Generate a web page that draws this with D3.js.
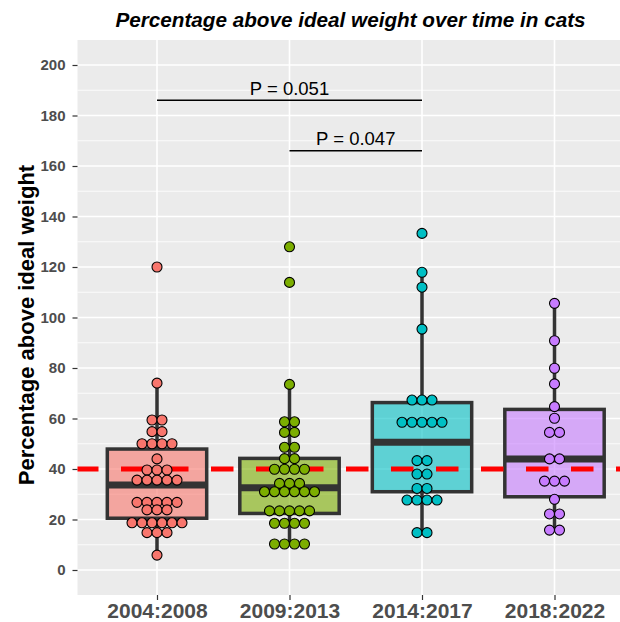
<!DOCTYPE html>
<html><head><meta charset="utf-8">
<script src="https://cdn.jsdelivr.net/npm/d3@7"></script>
<style>
html,body{margin:0;padding:0;background:#fff;}
svg{display:block;font-family:"Liberation Sans",Arial,sans-serif;}
</style></head>
<body><svg id="c" width="620" height="622"></svg>
<script>
const categories = ["2004:2008","2009:2013","2014:2017","2018:2022"];
const colors = ["#F8766D","#7CAE00","#00BFC4","#C77CFF"];
const g1 = [120,74,59.4,59.4,54.8,54.8,50,50,50,50,44,39.6,39.6,39.6,35.6,35.6,35.6,35.6,35.6,26.8,26.8,26.8,26.8,26.8,23.8,23.8,23.8,18.7,18.7,18.7,18.7,18.7,18.7,14.8,14.8,14.8,5.9];
const g2 = [128,113.9,73.5,58.7,58.7,54.5,54.5,48.6,48.6,44.1,44.1,39.9,39.9,39.9,39.9,34.3,34.3,34.3,31,31,31,31,31,31,23.4,23.4,23.4,23.4,23.4,18.5,18.5,18.5,18.5,10.3,10.3,10.3,10.3];
const g3 = [133.3,117.9,112,95.4,67.3,67.3,67.3,58.5,58.5,58.5,58.5,58.5,43.3,43.3,38,38,32.3,32.3,27.7,27.7,27.7,27.7,14.8,14.8];
const g4 = [105.6,90.8,79.9,73.7,64.7,60.1,54.5,54.5,44,44,35.2,35.2,35.2,28,22.2,22.2,15.8,15.8];
const groupValues = [g1,g2,g3,g4];
const q1s = [20.5,22.4,31,29];
const medians = [33.7,32.6,50.6,44];
const q3s = [47.9,44.2,66.3,63.6];
const whiskerLows = [5.9,10.3,14.8,15.8];
const whiskerHighs = [74,73.5,117.9,105.6];
const yTicks = [0,20,40,60,80,100,120,140,160,180,200];
const refLine = 40;
const brackets = [{from:0,to:2,y:186,label:"P = 0.051"},{from:1,to:2,y:166,label:"P = 0.047"}];
const title = "Percentage above ideal weight over time in cats";
const yTitle = "Percentage above ideal weight";

const svg = d3.select("#c");
const L = 77.5, R = 634, T = 40, B = 595;
const x = d3.scalePoint().domain(categories).range([L,R]).padding(0.6);
const y = d3.scaleLinear().domain([0,200]).range([570,65]);
const bw = x.step()*0.75;
const FF = "Liberation Sans, Arial, sans-serif";

svg.append("rect").attr("x",L).attr("y",T).attr("width",R-L).attr("height",B-T).attr("fill","#EBEBEB");
const minor = d3.range(10,210,20);
svg.append("g").selectAll("line").data(minor).join("line")
  .attr("x1",L).attr("x2",R).attr("y1",d=>y(d)).attr("y2",d=>y(d)).attr("stroke","#fff").attr("stroke-width",0.8);
svg.append("g").selectAll("line").data(yTicks).join("line")
  .attr("x1",L).attr("x2",R).attr("y1",d=>y(d)).attr("y2",d=>y(d)).attr("stroke","#fff").attr("stroke-width",1.6);
svg.append("g").selectAll("line").data(categories).join("line")
  .attr("x1",d=>x(d)).attr("x2",d=>x(d)).attr("y1",T).attr("y2",B).attr("stroke","#fff").attr("stroke-width",1.6);

// axes
const ya = svg.append("g").attr("transform",`translate(${L},0)`).call(d3.axisLeft(y).tickValues(yTicks).tickSize(5).tickPadding(7));
ya.select(".domain").remove();
ya.selectAll("line").attr("stroke","#333").attr("stroke-width",1.2);
ya.selectAll("text").attr("fill","#4D4D4D").attr("font-size",15).attr("font-weight","bold").attr("font-family",FF);
const xa = svg.append("g").attr("transform",`translate(0,${B})`).call(d3.axisBottom(x).tickSize(5));
xa.select(".domain").remove();
xa.selectAll("line").attr("stroke","#333").attr("stroke-width",1.2);
xa.selectAll("text").attr("y",23).attr("dy",0).attr("fill","#4D4D4D").attr("font-size",21).attr("font-weight","bold").attr("font-family",FF);

// boxes
categories.forEach((c,i)=>{
  const g = svg.append("g");
  const cx = x(c);
  g.append("line").attr("x1",cx).attr("x2",cx).attr("y1",y(whiskerHighs[i])).attr("y2",y(q3s[i])).attr("stroke","#333").attr("stroke-width",3.5);
  g.append("line").attr("x1",cx).attr("x2",cx).attr("y1",y(q1s[i])).attr("y2",y(whiskerLows[i])).attr("stroke","#333").attr("stroke-width",3.5);
  g.append("rect").attr("x",cx-bw/2).attr("width",bw).attr("y",y(q3s[i])).attr("height",y(q1s[i])-y(q3s[i]))
    .attr("fill",colors[i]).attr("fill-opacity",0.6).attr("stroke","#333").attr("stroke-width",3.5);
  g.append("line").attr("x1",cx-bw/2).attr("x2",cx+bw/2).attr("y1",y(medians[i])).attr("y2",y(medians[i])).attr("stroke","#333").attr("stroke-width",7);
});

// reference line
svg.append("line").attr("x1",L).attr("x2",R).attr("y1",y(refLine)).attr("y2",y(refLine))
  .attr("stroke","#FF0000").attr("stroke-width",5).attr("stroke-dasharray","22.5,22.5").attr("stroke-dashoffset",1.5);

// dots
const rD = 5;
categories.forEach((c,i)=>{
  const rows = d3.groups(groupValues[i], v=>v);
  const pts = [];
  rows.forEach(([v,arr])=>{
    const n = arr.length;
    arr.forEach((_,k)=>pts.push({v, off:(k-(n-1)/2)*rD*2}));
  });
  svg.append("g").selectAll("circle").data(pts).join("circle")
    .attr("cx",d=>x(c)+d.off).attr("cy",d=>y(d.v)).attr("r",rD)
    .attr("fill",colors[i]).attr("stroke","#000").attr("stroke-width",1.1);
});

// brackets
brackets.forEach(b=>{
  const x1 = x(categories[b.from]), x2 = x(categories[b.to]);
  svg.append("line").attr("x1",x1).attr("x2",x2).attr("y1",y(b.y)).attr("y2",y(b.y)).attr("stroke","#000").attr("stroke-width",1.5);
  svg.append("text").attr("x",(x1+x2)/2).attr("y",y(b.y)-5.5).attr("text-anchor","middle").attr("font-size",18.5).attr("fill","#000").text(b.label);
});

// titles
svg.append("text").attr("x",350.5).attr("y",26.5).attr("text-anchor","middle").attr("font-size",20.7).attr("font-weight","bold").attr("font-style","italic").attr("fill","#000").text(title);
svg.append("text").attr("transform",`translate(34,325) rotate(-90)`).attr("text-anchor","middle").attr("font-size",22).attr("font-weight","bold").attr("fill","#000").text(yTitle);
</script></body></html>
